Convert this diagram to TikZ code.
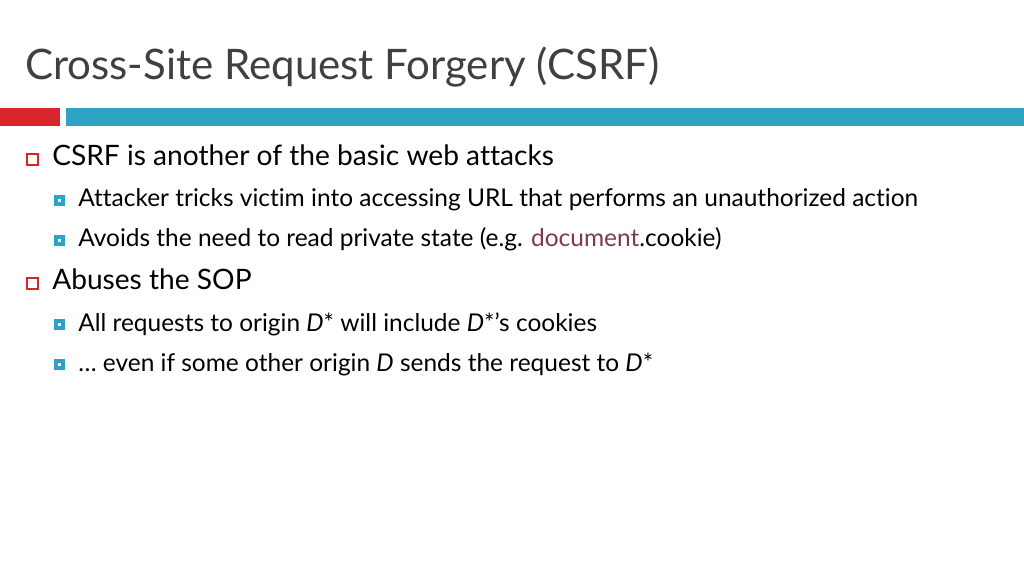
\documentclass[tikz,border=0pt]{standalone}
\usepackage{fontspec}
\setmainfont[Ligatures={NoCommon}]{Lato}
\definecolor{barred}{HTML}{D8262F}
\definecolor{barblue}{HTML}{2FA3C3}
\definecolor{titlegray}{HTML}{404040}
\definecolor{codecol}{HTML}{7A3B4E}
\tikzset{
  titletext/.style={anchor=base west,inner sep=0pt,font=\fontsize{29.9}{36}\selectfont,text=titlegray},
  lvlone/.style={anchor=base west,inner sep=0pt,font=\fontsize{20}{24}\selectfont},
  lvltwo/.style={anchor=base west,inner sep=0pt,font=\fontsize{17.4}{20}\selectfont},
  boxone/.style={draw=barred,line width=0.8pt,fill=white},
  boxtwo/.style={draw=barblue,line width=2.8pt,fill=white}
}
\begin{document}
\begin{tikzpicture}[x=0.025cm,y=-0.025cm]
\useasboundingbox (0,0) rectangle (1024,576);
\node[titletext] (title) at (25,80) {Cross-Site Request Forgery (CSRF)};
\fill[barred] (0,108) rectangle (60,126);
\fill[barblue] (66,108) rectangle (1024,126);
% first bullet
\draw[boxone] (27,154) rectangle (38,165);
\node[lvlone] (csrf) at (52,166) {CSRF is another of the basic web attacks};
\draw[boxtwo] (56,197) rectangle (63,204);
\node[lvltwo] (trick) at (78,207) {Attacker tricks victim into accessing URL that performs an unauthorized action};
\draw[boxtwo] (56,237) rectangle (63,244);
\node[lvltwo] (avoid) at (78,247) {Avoids the need to read private state (e.g. \textcolor{codecol}{document}.cookie)};
% second bullet
\draw[boxone] (27,278) rectangle (38,289);
\node[lvlone] (sop) at (52,290) {Abuses the SOP};
\draw[boxtwo] (56,321) rectangle (63,328);
\node[lvltwo] (reqs) at (78,331) {All requests to origin \textit{D}* will include \textit{D}*’s cookies};
\draw[boxtwo] (56,361) rectangle (63,368);
\node[lvltwo] (even) at (78,371) {… even if some other origin \textit{D} sends the request to \textit{D}*};
\end{tikzpicture}
\end{document}
